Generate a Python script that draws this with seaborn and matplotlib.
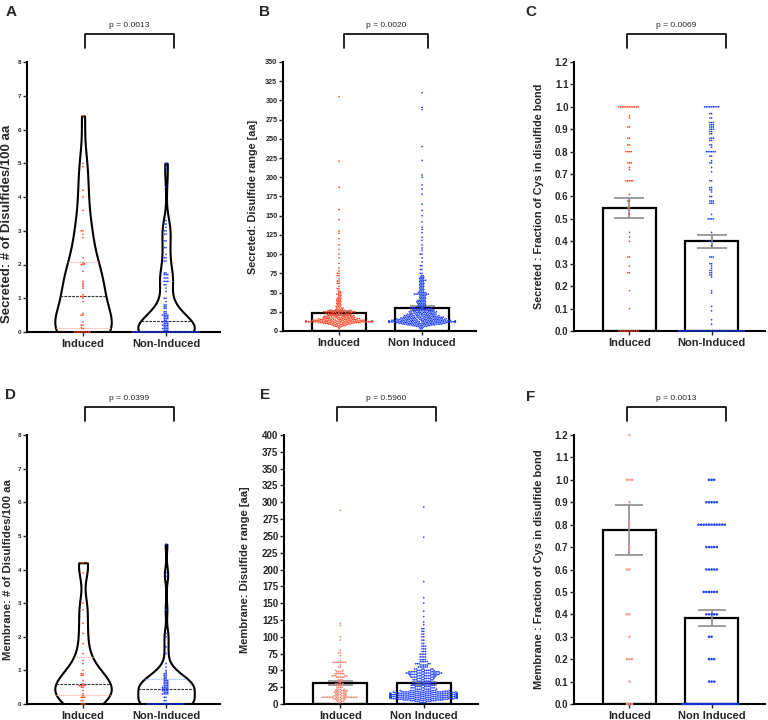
import numpy as np
import pandas as pd
import seaborn as sns
import matplotlib.pyplot as plt
import warnings
warnings.filterwarnings('ignore')

sns.set_style('ticks')
plt.rcParams['font.family'] = ['Liberation Sans', 'DejaVu Sans']

RED = '#ff4122'
BLUE = '#1a3cff'
LIGHT_RED = '#ffb3a8'
LIGHT_BLUE = '#a8b8ff'
SALMON = '#f5806c'
FAINT_RED = '#f79a88'

# ---- A: secreted, disulfides per 100 aa (violin)
a_names = ['Induced', 'Non-Induced']
a_ind_vals = [0, 0.1, 0.12, 0.2, 0.3, 0.5, 0.55, 0.9, 1.0, 1.05, 1.1, 1.3, 1.35, 1.4, 1.45,
              1.5, 1.8, 2.0, 2.02, 2.05, 2.2, 2.8, 2.9, 3.0, 3.6, 4.0, 4.2, 4.9, 5.0, 6.4]
a_ind_cnt = [10, 1, 1, 2, 1, 2, 1, 1, 1, 2, 1, 1, 1, 1, 1,
             1, 1, 2, 1, 1, 1, 1, 1, 2, 1, 1, 1, 1, 1, 1]
a_non_vals = [0, 0.05, 0.1, 0.15, 0.2, 0.25, 0.3, 0.35, 0.4, 0.45, 0.5, 0.55, 0.6, 0.7, 0.75,
              0.8, 0.9, 1.0, 1.2, 1.3, 1.4, 1.5, 1.6, 1.7, 1.75, 2.1, 2.2, 2.3, 2.5, 2.7,
              2.9, 3.0, 3.1, 3.2, 3.3, 4.3, 4.8, 4.9, 5.0]
a_non_cnt = [40, 3, 4, 3, 4, 3, 4, 2, 3, 3, 4, 2, 2, 2, 2,
             2, 1, 2, 1, 1, 2, 3, 3, 3, 2, 2, 2, 1, 2, 2,
             2, 2, 1, 2, 1, 1, 1, 1, 1]

# ---- B: secreted, disulfide range (bar + swarm)
b_names = ['Induced', 'Non Induced']
b_mean = [23.5, 29.5]
b_sem = [2.5, 2.5]
b_ind_vals = [3, 5, 6, 7, 8, 9, 10, 11, 12, 13,
              14, 15, 16, 17, 18, 19, 20, 21, 22, 23, 24, 25, 26, 27, 28,
              30, 32, 34, 36, 38, 40, 42, 44, 46, 48, 50, 52,
              55, 58, 62, 65, 68, 72, 75, 78, 82, 88,
              95, 100, 106, 112, 120, 127, 130, 145, 158, 187, 221, 305]
b_ind_cnt = [1, 2, 3, 4, 5, 7, 9, 14, 24, 20,
             14, 12, 10, 9, 8, 8, 7, 6, 6, 6, 7, 9, 6, 5, 4,
             4, 3, 3, 3, 3, 3, 3, 2, 2, 3, 2, 2,
             2, 1, 2, 2, 1, 2, 2, 1, 1, 1,
             1, 1, 1, 1, 1, 1, 1, 1, 1, 1, 1, 1]
b_non_vals = [3, 5, 6, 7, 8, 9, 10, 11, 12, 13,
              14, 15, 16, 17, 18, 19, 20, 21, 22, 23, 24, 25, 26, 27, 28, 29, 30,
              32, 34, 36, 38, 40, 42, 44, 46, 48, 50, 52, 54, 56, 58, 60, 62, 64, 66, 68, 70, 72,
              75, 80, 85, 90, 95, 100, 105, 108, 112, 118, 122, 128, 132, 135, 142, 150,
              157, 165, 178, 185, 190, 200, 203, 222, 240, 288, 291, 310]
b_non_cnt = [2, 3, 4, 6, 10, 12, 14, 16, 30, 20,
             16, 14, 13, 12, 11, 10, 9, 8, 8, 7, 7, 8, 6, 6, 5, 5, 7,
             5, 5, 5, 6, 5, 4, 4, 4, 9, 5, 3, 3, 3, 3, 3, 3, 3, 4, 3, 3, 2,
             2, 2, 2, 1, 1, 2, 1, 1, 1, 1, 1, 1, 1, 1, 1, 1,
             1, 1, 1, 1, 1, 1, 1, 1, 1, 1, 1, 1]

# ---- C: secreted, fraction of Cys in disulfide bond
c_names = ['Induced', 'Non-Induced']
c_mean = [0.55, 0.40]
c_sem = [0.044, 0.029]
c_ind_vals = [1.0, 0.96, 0.95, 0.91, 0.86, 0.83, 0.8, 0.75, 0.73, 0.72, 0.67, 0.61, 0.58,
              0.55, 0.52, 0.44, 0.42, 0.40, 0.33, 0.29, 0.26, 0.18, 0.10, 0.0]
c_ind_cnt = [12, 1, 1, 2, 2, 2, 4, 3, 1, 1, 5, 1, 2, 2, 1, 1, 1, 1, 2, 1, 2, 1, 1, 12]
c_non_vals = [1.0, 0.97, 0.95, 0.93, 0.92, 0.91, 0.9, 0.89, 0.88, 0.86, 0.85, 0.83, 0.82,
              0.8, 0.78, 0.76, 0.75, 0.73, 0.71, 0.67, 0.64, 0.63, 0.62, 0.6, 0.58, 0.57,
              0.52, 0.5, 0.44, 0.4, 0.38, 0.33, 0.3, 0.29, 0.28, 0.27, 0.26, 0.25, 0.24,
              0.18, 0.17, 0.11, 0.09, 0.05, 0.03, 0.0]
c_non_cnt = [9, 2, 2, 3, 3, 3, 3, 2, 2, 3, 2, 2, 1,
             6, 2, 1, 2, 1, 1, 2, 2, 2, 1, 2, 3, 3,
             1, 4, 1, 2, 1, 3, 2, 1, 1, 2, 2, 2, 1,
             1, 1, 1, 1, 1, 1, 40]

# ---- D: membrane, disulfides per 100 aa (violin)
d_names = ['Induced', 'Non-Induced']
d_ind_vals = [0, 0.1, 0.2, 0.25, 0.3, 0.4, 0.5, 0.55, 0.6, 0.7, 0.85, 0.9, 1.0, 1.2, 1.3,
              1.5, 1.8, 2.1, 2.4, 2.8, 3.0, 3.9, 4.2]
d_ind_cnt = [3, 2, 3, 1, 1, 1, 2, 4, 1, 1, 2, 2, 1, 1, 1, 1, 1, 1, 1, 1, 1, 1, 2]
d_non_vals = [0, 0.1, 0.2, 0.3, 0.35, 0.4, 0.45, 0.5, 0.55, 0.6, 0.65, 0.7, 0.75, 0.8,
              0.85, 0.9, 0.95, 1.0, 1.1, 1.2, 1.5, 1.7, 2.0, 2.1, 2.8, 3.8, 3.9, 4.75]
d_non_cnt = [22, 2, 2, 4, 3, 4, 4, 4, 3, 3, 3, 3, 2, 2,
             2, 2, 1, 1, 1, 1, 1, 1, 1, 1, 1, 1, 1, 1]

# ---- E: membrane, disulfide range (bar + swarm)
e_names = ['Induced', 'Non Induced']
e_mean = [31.5, 30.5]
e_sem = [3.0, 2.0]
e_ind_vals = [2, 4, 6, 8, 10, 12, 14, 16, 18, 20, 22, 25, 28, 30, 33, 36, 40, 42, 45, 48,
              50, 55, 58, 62, 65, 72, 76, 80, 95, 100, 117, 120, 288]
e_ind_cnt = [2, 3, 4, 6, 18, 6, 5, 5, 6, 6, 4, 4, 3, 3, 3, 3, 5, 5, 6, 4,
             2, 2, 1, 8, 1, 1, 2, 1, 1, 1, 1, 1, 1]
e_non_vals = [2, 4, 5, 6, 7, 8, 9, 10, 11, 12, 13, 14, 15, 16, 17, 18, 19, 20,
              22, 24, 26, 28, 30, 32, 34, 36, 38, 40, 42, 44, 46, 48, 50,
              52, 55, 58, 60, 63, 66, 70, 74, 78, 82,
              86, 90, 95, 100, 104, 108, 112, 118, 122, 130, 138, 150, 158, 182, 248, 293]
e_non_cnt = [4, 6, 8, 10, 12, 16, 20, 40, 22, 20, 18, 18, 24, 16, 14, 12, 10, 10,
             9, 8, 8, 8, 8, 7, 7, 7, 8, 9, 10, 12, 14, 12, 8,
             6, 6, 5, 5, 5, 4, 4, 4, 3, 3,
             3, 2, 2, 2, 2, 2, 2, 1, 1, 1, 1, 1, 1, 1, 1, 1]

# ---- F: membrane, fraction of Cys in disulfide bond
f_names = ['Induced', 'Non Induced']
f_mean = [0.775, 0.385]
f_sem = [0.112, 0.036]
f_ind_vals = [1.2, 1.0, 0.9, 0.8, 0.7, 0.6, 0.4, 0.3, 0.2, 0.1, 0.0]
f_ind_cnt = [1, 3, 1, 1, 1, 2, 2, 1, 3, 1, 3]
f_non_vals = [1.0, 0.9, 0.8, 0.7, 0.6, 0.5, 0.4, 0.3, 0.2, 0.1, 0.0]
f_non_cnt = [3, 5, 11, 5, 5, 6, 5, 2, 3, 3, 22]

p_values = ['p = 0.0013', 'p = 0.0020', 'p = 0.0069', 'p = 0.0399', 'p = 0.5960', 'p = 0.0013']


def make_df(names, vals, cnts):
    frames = []
    for n, v, c in zip(names, vals, cnts):
        frames.append(pd.DataFrame({'group': n, 'value': np.repeat(v, c)}))
    return pd.concat(frames, ignore_index=True)


fig = plt.figure(figsize=(7.68, 7.2), dpi=100)


def px_axes(l, t, r, b):
    return fig.add_axes([l / 768, 1 - b / 720, (r - l) / 768, (b - t) / 720])


def style_axis(ax, names, ymax, step, tick_fs, fmt, ylabel, ylab_fs, lab_x, lab_y, pval, br):
    ax.set_xlim(-0.675, 1.65)
    ax.set_ylim(0, ymax)
    ticks = np.arange(0, ymax + step / 2, step)
    ax.set_yticks(ticks)
    ax.set_yticklabels([fmt.format(t) for t in ticks], fontsize=tick_fs, fontweight='bold')
    ax.set_xticks(range(len(names)))
    ax.set_xticklabels(names, fontsize=8, fontweight='bold')
    ax.tick_params(axis='y', length=3, width=1, pad=1)
    ax.tick_params(axis='x', length=3, width=1, pad=2)
    for s in ['top', 'right']:
        ax.spines[s].set_visible(False)
    for s in ['left', 'bottom']:
        ax.spines[s].set_linewidth(1.5)
        ax.spines[s].set_color('black')
    ax.set_xlabel('')
    ax.set_ylabel(ylabel, fontsize=ylab_fs, fontweight='bold')
    ax.yaxis.set_label_coords(lab_x, lab_y)
    # significance bracket
    tr = ax.get_xaxis_transform()
    x0, x1 = br
    ax.plot([x0, x0, x1, x1], [1.053, 1.105, 1.105, 1.053], color='black', lw=1.2,
            transform=tr, clip_on=False)
    ax.text((x0 + x1) / 2, 1.137, pval, transform=tr, ha='center', va='center', fontsize=6)


def violin_panel(ax, names, vals, cnts, bw):
    df = make_df(names, vals, cnts)
    sns.violinplot(data=df, x='group', y='value', order=names, cut=0, inner='quart',
                   color='white', linecolor='black', linewidth=1.5, width=0.68,
                   density_norm='width', bw_adjust=bw, saturation=1, ax=ax)
    # quartile lines light, median dark
    qlines = list(ax.lines)
    for i, ln in enumerate(qlines):
        light = LIGHT_RED if i < 3 else LIGHT_BLUE
        ln.set_linewidth(0.8)
        if i % 3 == 1:
            ln.set_color('#333333')
        else:
            ln.set_color(light)
    sns.swarmplot(data=df, x='group', y='value', order=names, hue='group',
                  palette=[RED, BLUE], size=1.2, legend=False, ax=ax, zorder=3, clip_on=False)


def bar_panel(ax, names, means, sems, vals, cnts, colors, size, capsize):
    df = make_df(names, vals, cnts)
    sns.barplot(x=names, y=means, order=names, color='white', edgecolor='black',
                linewidth=1.6, width=0.65, errorbar=None, saturation=1, ax=ax, zorder=1)
    ax.errorbar(range(len(names)), means, yerr=sems, fmt='none', ecolor='#8c8c8c',
                elinewidth=1.2, capsize=capsize, capthick=1.2, zorder=2)
    sns.swarmplot(data=df, x='group', y='value', order=names, hue='group',
                  palette=colors, size=size, legend=False, ax=ax, zorder=3, clip_on=False)


# panel A
ax = px_axes(27, 62, 220, 332)
violin_panel(ax, a_names, [a_ind_vals, a_non_vals], [a_ind_cnt, a_non_cnt], 0.75)
style_axis(ax, a_names, 8, 1, 4.5, '{:.0f}', 'Secreted: # of Disulfides/100 aa', 9.5,
           -0.07, 0.40, p_values[0], (0.024, 1.096))

# panel B
ax = px_axes(283, 62, 476, 331)
bar_panel(ax, b_names, b_mean, b_sem, [b_ind_vals, b_non_vals], [b_ind_cnt, b_non_cnt],
          [RED, BLUE], 1.2, 9)
style_axis(ax, b_names, 350, 25, 5.2, '{:.0f}', 'Secreted: Disulfide range [aa]', 7.8,
           -0.13, 0.5, p_values[1], (0.06, 1.072))

# panel C
ax = px_axes(574, 62, 765, 331)
bar_panel(ax, c_names, c_mean, c_sem, [c_ind_vals, c_non_vals], [c_ind_cnt, c_non_cnt],
          [RED, BLUE], 1.2, 11)
style_axis(ax, c_names, 1.2, 0.1, 7, '{:.1f}', 'Secreted : Fraction of Cys in disulfide bond', 7.8,
           -0.157, 0.5, p_values[2], (-0.03, 1.175))

# panel D
ax = px_axes(27, 435, 220, 704)
violin_panel(ax, d_names, [d_ind_vals, d_non_vals], [d_ind_cnt, d_non_cnt], 0.6)
style_axis(ax, d_names, 8, 1, 4.5, '{:.0f}', 'Membrane: # of Disulfides/100 aa', 8.2,
           -0.075, 0.5, p_values[3], (0.024, 1.096))

# panel E
ax = px_axes(284, 435, 478, 704)
bar_panel(ax, e_names, e_mean, e_sem, [e_ind_vals, e_non_vals], [e_ind_cnt, e_non_cnt],
          [SALMON, BLUE], 1.2, 9)
style_axis(ax, e_names, 400, 25, 7, '{:.0f}', 'Membrane: Disulfide range [aa]', 8,
           -0.175, 0.5, p_values[4], (-0.04, 1.146))

# panel F
ax = px_axes(574, 435, 765, 704)
bar_panel(ax, f_names, f_mean, f_sem, [f_ind_vals, f_non_vals], [f_ind_cnt, f_non_cnt],
          [FAINT_RED, BLUE], 1.8, 10)
style_axis(ax, f_names, 1.2, 0.1, 7, '{:.1f}', 'Membrane : Fraction of Cys in disulfide bond', 8,
           -0.157, 0.5, p_values[5], (-0.03, 1.175))

for letter, x, y in [('A', 11, 12), ('B', 265, 12), ('C', 531, 12),
                     ('D', 11, 395), ('E', 265, 395), ('F', 531, 397)]:
    fig.text(x / 768, 1 - y / 720, letter, fontsize=11, fontweight='bold', ha='center', va='center')

fig.savefig('out.png', dpi=100)
